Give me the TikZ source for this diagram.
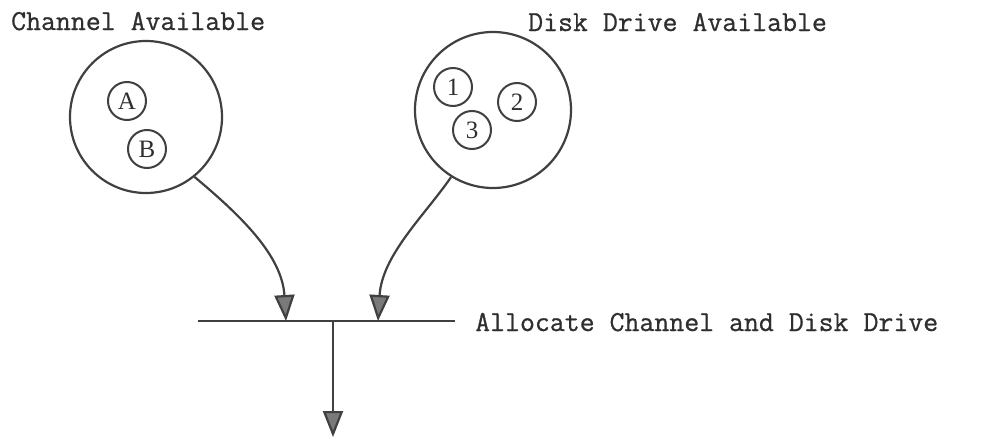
\documentclass[tikz,border=0pt]{standalone}
\usepackage{fontspec}
\newfontfamily\tokenfont{Liberation Serif}
\newfontfamily\typerfont[FakeBold=0.8]{Latin Modern Mono}
\usetikzlibrary{arrows.meta}
\definecolor{ink}{HTML}{404040}
\definecolor{txt}{HTML}{2E2E2E}
\definecolor{headfill}{HTML}{7A7A7A}
\tikzset{
  x=1pt, y=-1pt,
  place/.style={circle, draw=ink, line width=2.2pt, minimum size=#1, inner sep=0pt},
  token/.style={circle, draw=ink, line width=2pt, minimum size=38pt, inner sep=0pt,
    font=\tokenfont\fontsize{25}{25}\selectfont, text=txt},
  caption/.style={font=\typerfont\fontsize{29}{29}\selectfont, text=txt, inner sep=0pt},
  flow/.style={draw=ink, line width=2.2pt,
    -{Triangle[length=26pt,width=20pt,fill=headfill]}},
  bar/.style={draw=ink, line width=2.4pt}
}
\begin{document}
\begin{tikzpicture}
\useasboundingbox (0,0) rectangle (988,439);

% places
\node[place=152pt] (chan) at (146,117) {};
\node[place=156pt] (disk) at (493,110) {};

% tokens
\node[token] (ta) at (127,101) {A};
\node[token] (tb) at (147,149) {B};
\node[token] (t1) at (453,87) {1};
\node[token] (t2) at (517,102) {2};
\node[token] (t3) at (472,130) {3};

% labels
\node[caption, anchor=base west] (lchan) at (11,30) {Channel Available};
\node[caption, anchor=base west] (ldisk) at (528,31) {Disk Drive Available};

% transition bar
\coordinate (barL) at (198,321);
\coordinate (barR) at (455,321);
\coordinate (inA) at (286,321);
\coordinate (inB) at (378,321);
\coordinate (outT) at (333,321);
\coordinate (outE) at (333,437);
\draw[bar] (barL) -- (barR);
\node[caption, anchor=base west] (ltrans) at (475,331) {Allocate Channel and Disk Drive};

% arcs
\draw[flow] (chan.-51) .. controls (240,215) and (282,255) .. (inA);
\draw[flow] (disk.-122) .. controls (425,215) and (382,255) .. (inB);
\draw[flow] (outT) -- (outE);
\end{tikzpicture}
\end{document}
